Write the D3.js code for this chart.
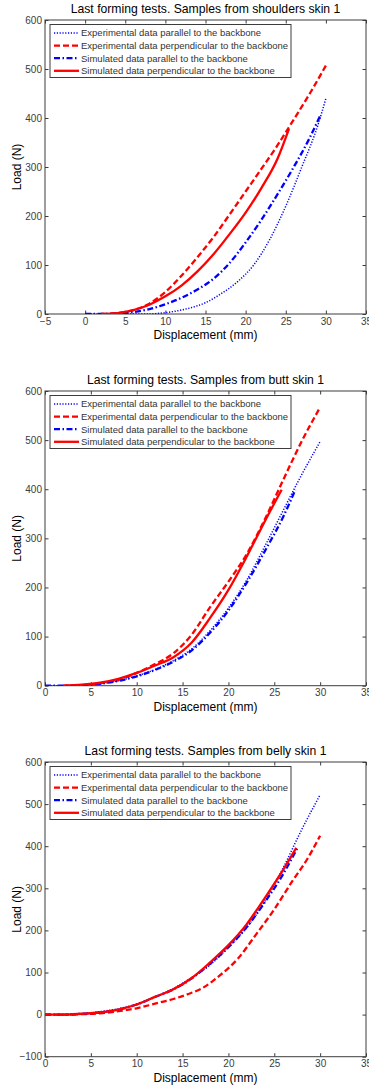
<!DOCTYPE html>
<html>
<head>
<meta charset="utf-8">
<script src="https://cdn.jsdelivr.net/npm/d3@7/dist/d3.min.js"></script>
<style>
  html, body { margin: 0; padding: 0; background: #fff; }
  svg { display: block; }
  text { font-family: "Liberation Sans", Arial, sans-serif; }
</style>
</head>
<body>
<svg id="chart" width="369" height="1087"></svg>
<script>
// ---- Legend / series labels ----
const seriesNames = [
  "Experimental data parallel to the backbone",
  "Experimental data perpendicular to the backbone",
  "Simulated data parallel to the backbone",
  "Simulated data perpendicular to the backbone"
];
const panelTitles = [
  "Last forming tests. Samples from shoulders skin 1",
  "Last forming tests. Samples from butt skin 1",
  "Last forming tests. Samples from belly skin 1"
];
const xAxisLabel = "Displacement (mm)";
const yAxisLabel = "Load (N)";

// ---- Tick values ----
const xTicksShoulders = [-5, 0, 5, 10, 15, 20, 25, 30, 35];
const xTicksOther = [0, 5, 10, 15, 20, 25, 30, 35];
const yTicksShoulders = [0, 100, 200, 300, 400, 500, 600];
const yTicksButt = [0, 100, 200, 300, 400, 500, 600];
const yTicksBelly = [-100, 0, 100, 200, 300, 400, 500, 600];

// ---- Shoulders skin ----
const shExpParX = [0, 2, 4, 6, 7.5, 9, 11, 13, 15, 17, 19, 21, 23, 25, 27, 29, 30];
const shExpParY = [0, 0, 0, 0, 0, 1, 5, 12, 23, 42, 66, 100, 152, 220, 300, 385, 440];
const shExpPerpX = [2, 4, 6, 8, 10, 12, 14, 16, 18, 20, 22, 24, 26, 28, 30];
const shExpPerpY = [0, 2, 8, 21, 45, 78, 116, 157, 203, 250, 297, 345, 397, 450, 507];
const shSimParX = [0, 2, 4, 6, 8, 10, 12, 14, 16, 18, 20, 22, 24, 26, 28, 29.3];
const shSimParY = [0, 0, 1, 4, 10, 20, 33, 50, 72, 104, 146, 193, 245, 300, 360, 405];
const shSimPerpX = [2, 4, 6, 8, 10, 12, 14, 16, 18, 20, 22, 24, 25.4];
const shSimPerpY = [0, 2, 8, 19, 36, 58, 87, 122, 163, 207, 258, 318, 378];

// ---- Butt skin ----
const buExpParX = [0, 2, 4, 6, 8, 10, 12, 14, 16, 18, 20, 22, 24, 26, 28, 30];
const buExpParY = [0, 0, 1, 4, 10, 20, 33, 51, 75, 112, 158, 215, 285, 358, 430, 497];
const buExpPerpX = [2, 4, 6, 8, 10, 12, 14, 16, 18, 20, 22, 24, 26, 28, 30];
const buExpPerpY = [0, 1, 5, 12, 26, 44, 66, 104, 160, 212, 268, 340, 420, 498, 567];
const buSimParX = [0, 2, 4, 6, 8, 10, 12, 14, 16, 18, 20, 22, 24, 26, 27.3];
const buSimParY = [0, 0, 1, 4, 10, 19, 32, 49, 72, 108, 153, 210, 275, 345, 399];
const buSimPerpX = [2, 4, 6, 8, 10, 12, 14, 16, 18, 20, 22, 24, 25.8];
const buSimPerpY = [0, 2, 6, 14, 26, 41, 58, 88, 138, 195, 263, 336, 399];

// ---- Belly skin ----
const beExpParX = [0, 2, 4, 6, 8, 10, 12, 14, 16, 18, 20, 22, 24, 26, 28, 30];
const beExpParY = [0, 0, 2, 7, 14, 25, 42, 62, 88, 118, 160, 207, 270, 350, 440, 522];
const beExpPerpX = [0, 2, 4, 6, 8, 10, 12, 14, 15.5, 17, 19, 21, 23, 25, 27, 28.5, 30];
const beExpPerpY = [0, 0, 1, 3, 8, 15, 26, 37, 48, 61, 92, 132, 190, 250, 318, 366, 425];
const beSimParX = [0, 2, 4, 6, 8, 10, 12, 14, 16, 18, 20, 22, 24, 26, 27.5];
const beSimParY = [0, 0, 2, 5, 12, 24, 42, 60, 86, 121, 160, 208, 268, 335, 395];
const beSimPerpX = [0, 2, 4, 6, 8, 10, 12, 14, 16, 18, 20, 22, 24, 26, 27.4];
const beSimPerpY = [0, 0, 2, 5, 12, 24, 42, 60, 87, 124, 165, 215, 278, 345, 396];

// Line styles, in legend order
const styles = [
  { color: "#0000ff", width: 1.5, dash: "1.2,1.6" },
  { color: "#ff0000", width: 2.3, dash: "6,3" },
  { color: "#0000ff", width: 2.3, dash: "6,2.5,1.5,2.5" },
  { color: "#ff0000", width: 2.3, dash: null }
];

const panels = [
  {
    title: panelTitles[0], box: [45, 20, 366, 314], xDomain: [-5, 35], yDomain: [0, 600],
    xTicks: xTicksShoulders, yTicks: yTicksShoulders,
    series: [[shExpParX, shExpParY], [shExpPerpX, shExpPerpY], [shSimParX, shSimParY], [shSimPerpX, shSimPerpY]]
  },
  {
    title: panelTitles[1], box: [45, 391, 366, 685.7], xDomain: [0, 35], yDomain: [0, 600],
    xTicks: xTicksOther, yTicks: yTicksButt,
    series: [[buExpParX, buExpParY], [buExpPerpX, buExpPerpY], [buSimParX, buSimParY], [buSimPerpX, buSimPerpY]]
  },
  {
    title: panelTitles[2], box: [45, 762, 366, 1056.7], xDomain: [0, 35], yDomain: [-100, 600],
    xTicks: xTicksOther, yTicks: yTicksBelly,
    series: [[beExpParX, beExpParY], [beExpPerpX, beExpPerpY], [beSimParX, beSimParY], [beSimPerpX, beSimPerpY]]
  }
];

const svg = d3.select("#chart");
const axisColor = "#3c3c3c";
const tickTextColor = "#3c3c3c";

panels.forEach((p, pi) => {
  const [x0, y0, x1, y1] = p.box;
  const x = d3.scaleLinear().domain(p.xDomain).range([x0, x1]);
  const y = d3.scaleLinear().domain(p.yDomain).range([y1, y0]);
  const g = svg.append("g").attr("class", "panel-" + pi);

  // clip region for the curves
  const clipId = "clip" + pi;
  g.append("clipPath").attr("id", clipId)
    .append("rect").attr("x", x0).attr("y", y0).attr("width", x1 - x0).attr("height", y1 - y0);

  // axes: ticks pointing inward on all four sides
  const tickLen = 3.5;
  const bottom = g.append("g").attr("transform", `translate(0,${y1})`)
    .call(d3.axisBottom(x).tickValues(p.xTicks).tickSizeInner(-tickLen).tickSizeOuter(0).tickPadding(3));
  const top = g.append("g").attr("transform", `translate(0,${y0})`)
    .call(d3.axisTop(x).tickValues(p.xTicks).tickSizeInner(-tickLen).tickSizeOuter(0).tickFormat(""));
  const left = g.append("g").attr("transform", `translate(${x0},0)`)
    .call(d3.axisLeft(y).tickValues(p.yTicks).tickSizeInner(-tickLen).tickSizeOuter(0).tickPadding(3));
  const right = g.append("g").attr("transform", `translate(${x1},0)`)
    .call(d3.axisRight(y).tickValues(p.yTicks).tickSizeInner(-tickLen).tickSizeOuter(0).tickFormat(""));
  [bottom, top, left, right].forEach(a => {
    a.select(".domain").remove();
    a.selectAll("line").attr("stroke", axisColor).attr("stroke-width", 1);
    a.selectAll("text").attr("fill", tickTextColor).style("font-size", "10px")
      .style("font-family", "'Liberation Sans', Arial, sans-serif");
  });
  bottom.selectAll("text").attr("dy", "0.75em");

  // plot box
  g.append("rect").attr("x", x0).attr("y", y0).attr("width", x1 - x0).attr("height", y1 - y0)
    .attr("fill", "none").attr("stroke", axisColor).attr("stroke-width", 1);

  // curves
  const line = d3.line().x(d => x(d[0])).y(d => y(d[1])).curve(d3.curveMonotoneX);
  const curves = g.append("g").attr("clip-path", `url(#${clipId})`);
  p.series.forEach(([xs, ys], si) => {
    const st = styles[si];
    curves.append("path")
      .datum(xs.map((v, i) => [v, ys[i]]))
      .attr("d", line)
      .attr("fill", "none")
      .attr("stroke", st.color)
      .attr("stroke-width", st.width)
      .attr("stroke-dasharray", st.dash)
      .attr("stroke-linejoin", "round");
  });

  // title
  g.append("text").attr("x", (x0 + x1) / 2).attr("y", y0 - 7)
    .attr("text-anchor", "middle").style("font-size", "12.2px").attr("fill", "#000")
    .text(p.title);

  // axis labels
  g.append("text").attr("x", (x0 + x1) / 2).attr("y", y1 + 25)
    .attr("text-anchor", "middle").style("font-size", "12px").attr("fill", "#000")
    .text(xAxisLabel);
  g.append("text")
    .attr("transform", `translate(20.5,${(y0 + y1) / 2}) rotate(-90)`)
    .attr("text-anchor", "middle").style("font-size", "12px").attr("fill", "#000")
    .text(yAxisLabel);

  // legend
  const lx = 50, ly = y0 + 4.5, lw = 241, lh = 53;
  const lg = g.append("g");
  lg.append("rect").attr("x", lx).attr("y", ly).attr("width", lw).attr("height", lh)
    .attr("fill", "#fff").attr("stroke", axisColor).attr("stroke-width", 1);
  seriesNames.forEach((name, si) => {
    const st = styles[si];
    const ry = ly + 8.5 + si * 12.6;
    lg.append("line").attr("x1", lx + 4).attr("x2", lx + 29).attr("y1", ry).attr("y2", ry)
      .attr("stroke", st.color).attr("stroke-width", st.width).attr("stroke-dasharray", st.dash);
    lg.append("text").attr("x", lx + 31).attr("y", ry).attr("dy", "0.35em")
      .style("font-size", "9.5px").attr("fill", "#333").text(name);
  });
});
</script>
</body>
</html>
